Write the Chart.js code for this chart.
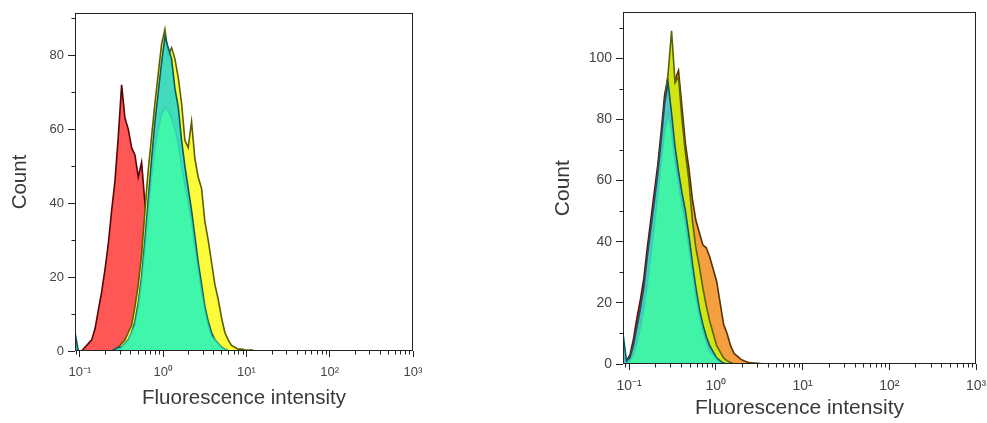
<!DOCTYPE html>
<html>
<head>
<meta charset="utf-8">
<script src="https://cdn.jsdelivr.net/npm/chart.js@4.4.1/dist/chart.umd.min.js"></script>
<style>
  html, body { margin: 0; padding: 0; background: #fff; }
  #wrap { position: relative; width: 987px; height: 423px; overflow: hidden; }
  canvas { position: absolute; top: 0; }
  #leftChart { left: 0; }
  #rightChart { left: 540px; }
</style>
</head>
<body>
<div id="wrap">
  <canvas id="leftChart" width="450" height="423"></canvas>
  <canvas id="rightChart" width="470" height="423"></canvas>
</div>
<script>
// x is log10(intensity); decade ticks labelled as powers of ten
const xTickValues = [-1, 0, 1, 2, 3];
const xTickLabels = ['10\u207B\u00B9', '10\u2070', '10\u00B9', '10\u00B2', '10\u00B3'];
const minorMultipliers = [2, 3, 4, 5, 6, 7, 8, 9];

// left panel
const leftBins = [-1.06,-1.02,-0.98,-0.94,-0.90,-0.86,-0.82,-0.78,-0.74,-0.70,
  -0.66,-0.62,-0.58,-0.54,-0.50,-0.46,-0.42,-0.38,-0.34,-0.30,
  -0.26,-0.22,-0.18,-0.14,-0.10,-0.06,-0.02,0.02,0.06,0.10,
  0.14,0.18,0.22,0.26,0.30,0.34,0.38,0.42,0.46,0.50,
  0.54,0.58,0.62,0.66,0.70,0.74,0.78,0.82,0.86,0.90,
  0.94,0.98,1.02,1.06,1.10,1.14];
const leftRed = [2,0,0,1,2,3,6,11,16,22, 29,38,46,58,72,63,60,55,53,47,
  51,40,30,22,15,9,5,3,1,0, 0,0,0,0,0,0,0,0,0,0, 0,0,0,0,0,0,0,0,0,0, 0,0,0,0,0,0];
const leftYellow = [0,0,0,0,0,0,0,0,0,0, 0,0,0.5,1,2,3,5,7,12,18,
  26,38,49,58,67,75,83,87,80,82, 79,74,67,57,55,62,52,47,44,35,
  30,24,18,14,9,5,3,1.5,1,0.5, 0.5,0.3,0.2,0.3,0,0];
const leftTeal = [5,0,0,0,0,0,0,0,0,0, 0,0,0.5,1,1,2,3,5,8,13,
  20,30,41,52,62,70,78,85,82,79, 71,66,57,50,44,38,31,24,18,12,
  8,5,3,2,1,0.5,0,0,0,0, 0,0,0,0,0,0];
const leftGreen = [0,0,0,0,0,0,0,0,0,0, 0,0,0,0,1,2,3,5,7,12,
  19,28,38,47,55,60,64,66,65,63, 60,56,50,45,40,35,28,22,16,11,
  7,4,3,2,1,0.5,0,0,0,0, 0,0,0,0,0,0];
const leftYTicks = [0, 20, 40, 60, 80];
const leftYMinor = [10, 30, 50, 70, 90];

// right panel
const rightBins = [-1.07,-1.03,-0.99,-0.95,-0.91,-0.87,-0.83,-0.79,-0.75,-0.71,
  -0.67,-0.63,-0.59,-0.55,-0.51,-0.47,-0.43,-0.39,-0.35,-0.31,
  -0.27,-0.23,-0.19,-0.15,-0.11,-0.07,-0.03,0.01,0.05,0.09,
  0.13,0.17,0.21,0.25,0.29,0.33,0.37,0.41,0.45,0.49,
  0.53,0.57];
const rightRed = [3,1,3,8,15,21,28,38,47,56, 65,76,88,94,90,86,78,70,60,50,
  40,32,24,17,12,8,5,3,2,1, 0.5,0,0,0,0,0,0,0,0,0, 0,0];
const rightOrange = [2,0,2,6,11,17,24,33,43,52, 62,72,83,89,92,93,96,84,72,64,
  54,47,43,39,38,35,31,27,20,13, 10,6,3.5,2.5,1.5,1,0.6,0.4,0.3,0.2, 0.1,0];
const rightLime = [2,0,2,6,11,17,24,34,43,52, 62,73,85,95,109,92,94,80,69,60,
  47,38,32,25,19,14,10,6,4,2, 1,0.5,0,0,0,0,0,0,0,0, 0,0];
const rightTeal = [10,1,2,6,12,18,25,35,44,53, 62,73,85,92,82,71,63,56,50,42,
  33,25,18,13,9,6,4,2,1,0.3, 0,0,0,0,0,0,0,0,0,0, 0,0];
const rightGreen = [0,0,1,3,7,12,18,26,35,45, 55,66,76,82,76,66,59,52,46,38,
  30,22,16,11,7,4,3,1.5,0.5,0, 0,0,0,0,0,0,0,0,0,0, 0,0];
const rightYTicks = [0, 20, 40, 60, 80, 100];
const rightYMinor = [10, 30, 50, 70, 90, 110];

const FONT = "'Liberation Sans', Arial, sans-serif";

// box around the plot + short minor ticks
const frameTicks = {
  id: 'frameTicks',
  afterDatasetsDraw(chart, args, opts) {
    const { ctx, chartArea: a, scales: { x, y } } = chart;
    ctx.save();
    ctx.strokeStyle = '#222';
    ctx.lineWidth = 1;
    const l = Math.round(a.left) + 0.5, t = Math.round(a.top) + 0.5;
    const r = Math.round(a.right) - 0.5, b = Math.round(a.bottom) - 0.5;
    ctx.strokeRect(l, t, r - l, b - t);
    ctx.beginPath();
    for (let d = -2; d < 3; d++) {
      minorMultipliers.forEach(m => {
        const v = d + Math.log10(m);
        if (v < x.min || v > x.max) return;
        const px = Math.round(x.getPixelForValue(v)) + 0.5;
        ctx.moveTo(px, b);
        ctx.lineTo(px, b + 4);
      });
    }
    opts.yMinor.forEach(v => {
      const py = Math.round(y.getPixelForValue(v)) + 0.5;
      ctx.moveTo(l - 4, py);
      ctx.lineTo(l, py);
    });
    ctx.stroke();
    ctx.restore();
  }
};

function makeChart(id, cfg) {
  return new Chart(document.getElementById(id), {
    type: 'line',
    data: {
      datasets: cfg.series.map(s => ({
        label: s.label,
        data: cfg.bins.map((b, j) => ({ x: b, y: s.values[j] })),
        borderColor: s.line,
        backgroundColor: s.fill,
        borderWidth: 1.6,
        pointRadius: 0,
        tension: 0,
        fill: 'origin'
      }))
    },
    options: {
      responsive: false,
      animation: false,
      devicePixelRatio: 1,
      layout: { padding: { left: 0, top: cfg.padTop, right: cfg.padRight, bottom: 0 } },
      plugins: {
        legend: { display: false },
        tooltip: { enabled: false },
        frameTicks: { yMinor: cfg.yMinor }
      },
      scales: {
        x: {
          type: 'linear',
          min: cfg.xMin,
          max: 3,
          afterBuildTicks: s => { s.ticks = xTickValues.map(v => ({ value: v })); },
          afterFit: s => { s.height = cfg.xAxisHeight; },
          border: { display: false },
          grid: { drawOnChartArea: false, tickLength: 6, color: '#222' },
          ticks: {
            autoSkip: false, maxRotation: 0, padding: 8, color: '#444',
            font: { family: FONT, size: cfg.tickSize },
            callback: v => xTickLabels[xTickValues.indexOf(v)]
          },
          title: {
            display: true, text: 'Fluorescence intensity', color: '#3a3a3a',
            font: { family: FONT, size: cfg.titleSize, lineHeight: 1 },
            padding: { top: 0, bottom: cfg.xTitlePad }
          }
        },
        y: {
          min: 0,
          max: cfg.yMax,
          afterBuildTicks: s => { s.ticks = cfg.yTicks.map(v => ({ value: v })); },
          afterFit: s => { s.width = cfg.yAxisWidth; },
          border: { display: false },
          grid: { drawOnChartArea: false, tickLength: 7, color: '#222' },
          ticks: { padding: 4, color: '#444', font: { family: FONT, size: cfg.tickSize } },
          title: {
            display: true, text: 'Count', color: '#3a3a3a',
            font: { family: FONT, size: cfg.titleSize, lineHeight: 1 },
            padding: { top: cfg.yTitlePad, bottom: 0 }
          }
        }
      }
    },
    plugins: [frameTicks]
  });
}

// series listed top-most first (Chart.js draws dataset 0 last)
makeChart('leftChart', {
  bins: leftBins,
  series: [
    { label: 'green', values: leftGreen, fill: 'rgba(64,248,168,0.92)', line: 'rgba(40,200,170,0.6)' },
    { label: 'teal', values: leftTeal, fill: 'rgba(45,215,205,0.9)', line: '#0b5a62' },
    { label: 'yellow', values: leftYellow, fill: '#fbfb3a', line: '#5e5e00' },
    { label: 'red', values: leftRed, fill: '#ff5656', line: '#5a0505' }
  ],
  xMin: -1.06, yMax: 91.4, yTicks: leftYTicks, yMinor: leftYMinor,
  padTop: 13, padRight: 37, xAxisHeight: 72, yAxisWidth: 75,
  tickSize: 13, titleSize: 20.5, xTitlePad: 14, yTitlePad: 10
});

makeChart('rightChart', {
  bins: rightBins,
  series: [
    { label: 'green', values: rightGreen, fill: 'rgba(64,245,165,0.95)', line: 'rgba(40,200,170,0.6)' },
    { label: 'teal', values: rightTeal, fill: 'rgba(80,195,210,0.95)', line: '#0b5a62' },
    { label: 'lime', values: rightLime, fill: '#d2e414', line: '#5a6400' },
    { label: 'orange', values: rightOrange, fill: '#f4a040', line: '#5a3000' },
    { label: 'red', values: rightRed, fill: '#e83a3a', line: '#700808' }
  ],
  xMin: -1.07, yMax: 115, yTicks: rightYTicks, yMinor: rightYMinor,
  padTop: 11, padRight: 34, xAxisHeight: 59, yAxisWidth: 83,
  tickSize: 14, titleSize: 21, xTitlePad: 4, yTitlePad: 13
});
</script>
</body>
</html>
